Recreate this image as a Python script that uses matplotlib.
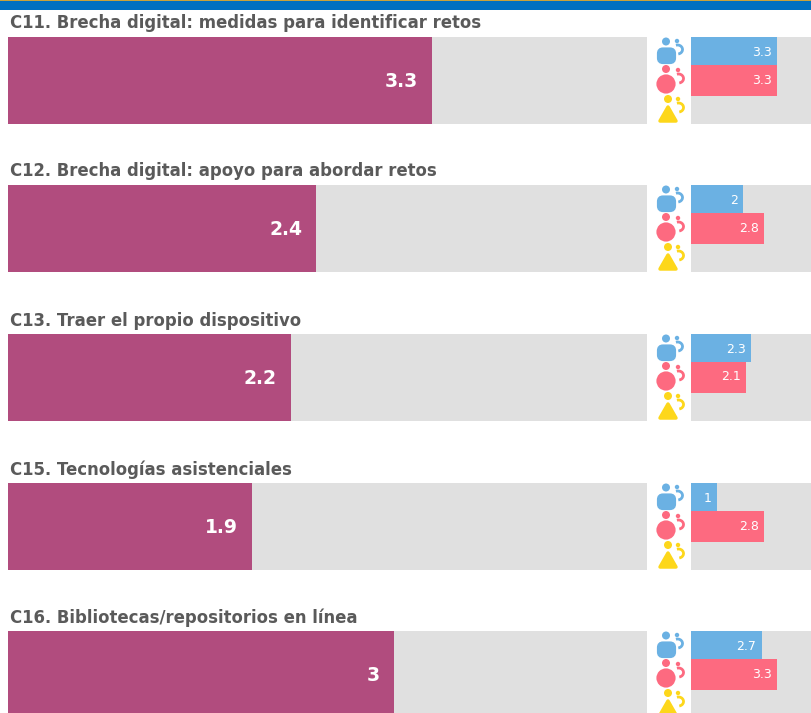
import matplotlib
matplotlib.use("Agg")
import matplotlib.pyplot as plt
from matplotlib.patches import Circle, Rectangle, FancyBboxPatch, Polygon, Arc

W, H = 811, 713

titles = ["C11. Brecha digital: medidas para identificar retos",
          "C12. Brecha digital: apoyo para abordar retos",
          "C13. Traer el propio dispositivo",
          "C15. Tecnologías asistenciales",
          "C16. Bibliotecas/repositorios en línea"]
total = [3.3, 2.4, 2.2, 1.9, 3]
male = [3.3, 2, 2.3, 1, 2.7]
female = [3.3, 2.8, 2.1, 2.8, 3.3]

PURPLE = "#B14C7E"
GREY = "#E0E0E0"
BLUE = "#6BB1E3"
RED = "#FD6A80"
YELLOW = "#FDD71B"
TEXT = "#5A5A5A"
ROW_TOPS = [37, 185, 334, 483, 631]

fig = plt.figure(figsize=(W / 100, H / 100), dpi=100)

# pixel coordinates for the header and the icons
bg = fig.add_axes([0, 0, 1, 1], zorder=5)
bg.set_xlim(0, W)
bg.set_ylim(H, 0)
bg.axis("off")


def add_axes_px(x0, x1, y0, y1):
    ax = fig.add_axes([x0 / W, 1 - y1 / H, (x1 - x0) / W, (y1 - y0) / H])
    ax.set_facecolor(GREY)
    for s in ax.spines.values():
        s.set_visible(False)
    ax.set_xticks([])
    ax.set_yticks([])
    return ax


def draw_arrow(x, y, color):
    bg.add_patch(Circle((x, y), 2.2, color=color, lw=0))
    bg.add_patch(Arc((x + 0.5, y + 8.5), 10, 9, theta1=-110, theta2=80,
                     color=color, lw=2.0))


def draw_icons(top):
    # blue, rounded square
    bg.add_patch(Circle((666, top + 4.5), 4, color=BLUE, lw=0))
    bg.add_patch(FancyBboxPatch((659, top + 12.5), 15, 12.5,
                                boxstyle="round,pad=0,rounding_size=4",
                                mutation_aspect=1, fc=BLUE, ec=BLUE, lw=3))
    draw_arrow(677, top + 4, BLUE)
    # red, circle
    bg.add_patch(Circle((666, top + 32), 4, color=RED, lw=0))
    bg.add_patch(Circle((666, top + 47), 9.6, color=RED, lw=0))
    draw_arrow(678, top + 33, RED)
    # yellow, triangle
    bg.add_patch(Circle((668, top + 62), 4, color=YELLOW, lw=0))
    bg.add_patch(Polygon([(668, top + 70), (660, top + 84), (676, top + 84)],
                         closed=True, fc=YELLOW, ec=YELLOW, lw=2.5, joinstyle="round"))
    draw_arrow(678, top + 62, YELLOW)


for i, title in enumerate(titles):
    top = ROW_TOPS[i]
    bottom = top + 87

    bg.text(10, top - 13.5, title, fontsize=11.9, fontweight="bold", color=TEXT,
            ha="left", va="center", family="DejaVu Sans")

    ax = add_axes_px(8, 647, top, bottom)
    ax.set_xlim(0, 639 / 128.5)
    ax.set_ylim(0, 1)
    ax.barh(0.5, total[i], height=1, color=PURPLE)
    ax.annotate(str(total[i]), (total[i], 0.49), xytext=(-10, 0), textcoords="offset points",
                ha="right", va="center", color="white", fontsize=13.5, fontweight="bold")

    ax2 = add_axes_px(691, 811, top, bottom)
    ax2.set_xlim(0, 120 / 26.2)
    ax2.set_ylim(87, 0)
    ax2.barh(13.75, male[i], height=27.5, color=BLUE)
    ax2.barh(43.25, female[i], height=31.5, color=RED)
    ax2.annotate(str(male[i]), (male[i], 15), xytext=(-4, 0), textcoords="offset points",
                 ha="right", va="center", color="white", fontsize=9)
    ax2.annotate(str(female[i]), (female[i], 43), xytext=(-4, 0), textcoords="offset points",
                 ha="right", va="center", color="white", fontsize=9)

    draw_icons(top)

# header band
bg.add_patch(Rectangle((0, 0), W, 10, color="#0070C0", lw=0))
bg.add_patch(Rectangle((0, 0), W, 1, color="#C9A23A", lw=0))

fig.savefig("out.png", dpi=100)
